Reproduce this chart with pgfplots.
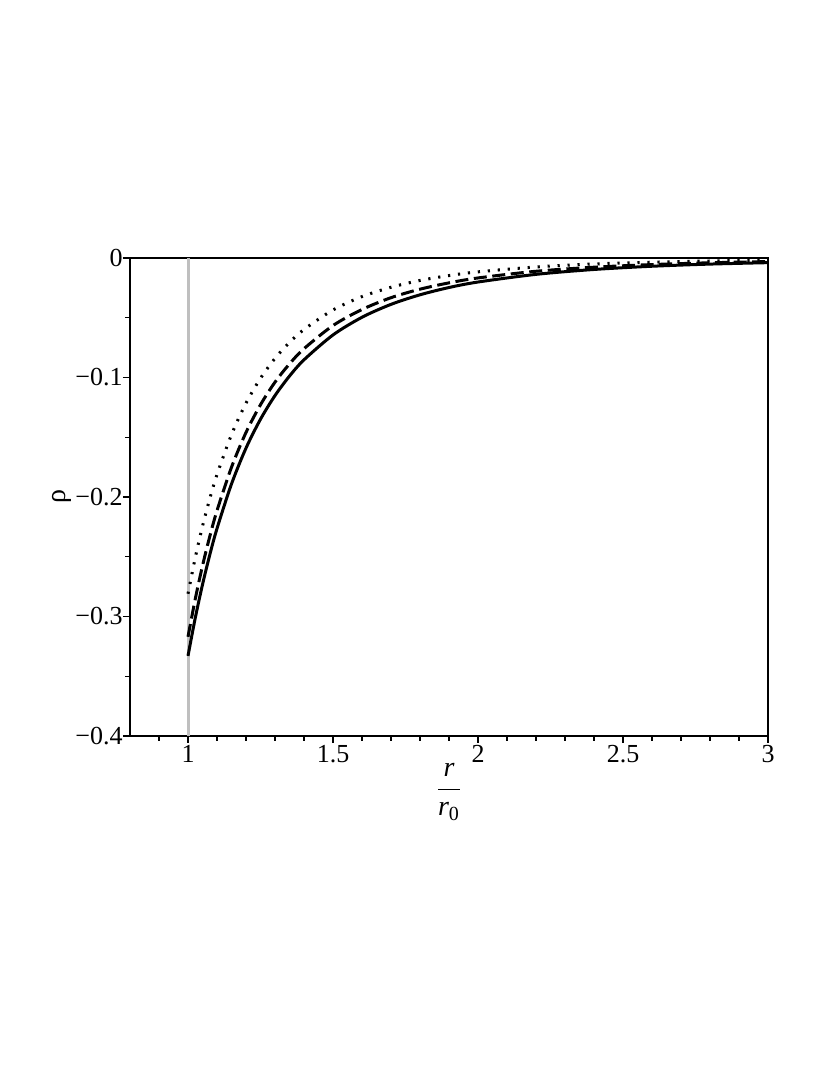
\documentclass[border=0pt,12pt]{standalone}
\usepackage{fontspec}
\setmainfont{Liberation Serif}
\usepackage{pgfplots}
\pgfplotsset{compat=1.18}

% rho(r/r0) for three cases
\pgfplotstableread{
r      solid    dashed   dotted
1.000 -0.3330  -0.3170  -0.2810
1.025 -0.3013  -0.2854  -0.2508
1.050 -0.2733  -0.2576  -0.2245
1.075 -0.2485  -0.2331  -0.2015
1.100 -0.2264  -0.2114  -0.1813
1.150 -0.1891  -0.1751  -0.1478
1.200 -0.1591  -0.1460  -0.1215
1.250 -0.1349  -0.1228  -0.1007
1.300 -0.1151  -0.1039  -0.0840
1.350 -0.0988  -0.0886  -0.0707
1.400 -0.0852  -0.0759  -0.0598
1.500 -0.0644  -0.0565  -0.0435
1.600 -0.0496  -0.0431  -0.0323
1.700 -0.0388  -0.0332  -0.0245
1.800 -0.0308  -0.0261  -0.0188
1.900 -0.0247  -0.0208  -0.0147
2.000 -0.0201  -0.0167  -0.0116
2.200 -0.0137  -0.0111  -0.0075
2.400 -0.0096  -0.0077  -0.0050
2.600 -0.0069  -0.0055  -0.0035
2.800 -0.0051  -0.0040  -0.0025
3.000 -0.0039  -0.0030  -0.0018
}\rhodata

\begin{document}
\begin{tikzpicture}
\path[use as bounding box] (-65pt,-169.5pt) rectangle (350pt,368pt);
\begin{axis}[
  scale only axis, width=319pt, height=239pt,
  xmin=0.8, xmax=3, ymin=-0.4, ymax=0,
  axis line style={line width=0.8pt},
  tick align=outside, xtick pos=left, ytick pos=left,
  xtick={1,1.5,2,2.5,3}, xticklabels={1,1.5,2,2.5,3},
  ytick={-0.4,-0.3,-0.2,-0.1,0}, yticklabels={−0.4,−0.3,−0.2,−0.1,0},
  minor xtick={0.9,1.1,1.2,1.3,1.4,1.6,1.7,1.8,1.9,2.1,2.2,2.3,2.4,2.6,2.7,2.8,2.9},
  minor ytick={-0.35,-0.25,-0.15,-0.05},
  major tick length=3.5pt, minor tick length=2.5pt,
  every tick/.style={black, line width=0.6pt},
  tick label style={font=\fontsize{13}{15}\selectfont},
  yticklabel style={xshift=4pt},
  xticklabel style={yshift=3pt},
  xlabel={$\displaystyle\frac{\mbox{\itshape r}}{\mbox{\itshape r}_{\mbox{\fontsize{10}{11}\selectfont 0}}}$},
  xlabel style={at={(axis description cs:0.5,0)}, anchor=center, yshift=-28pt, font=\fontsize{14}{16}\selectfont},
  ylabel={ρ},
  ylabel style={at={(axis description cs:-0.107,0.5)}, anchor=center, rotate=0, font=\fontsize{14}{15}\selectfont},
]
\addplot[color=black!25, line width=1.5pt] coordinates {(1,-0.4) (1,0)};
\addplot[black, line width=1.5pt, smooth] table[x=r, y=solid] {\rhodata};
\addplot[black, line width=1.5pt, smooth, dash pattern=on 6.5pt off 2.8pt] table[x=r, y=dashed] {\rhodata};
\addplot[black, line width=1.5pt, smooth, dash pattern=on 1.1pt off 3.9pt] table[x=r, y=dotted] {\rhodata};
\end{axis}
\end{tikzpicture}
\end{document}
